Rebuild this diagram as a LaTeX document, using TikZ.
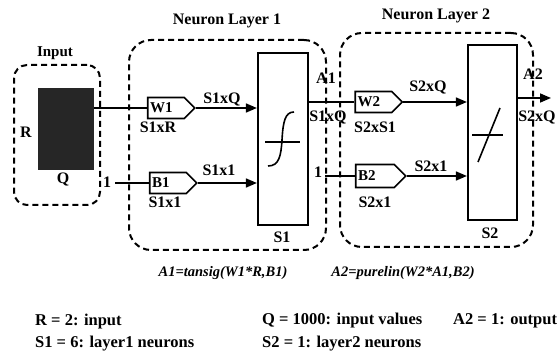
\documentclass[tikz,border=0pt]{standalone}
\usepackage{fontspec}
\setmainfont{Liberation Serif}
\usetikzlibrary{positioning,shapes.symbols,arrows.meta}

\begin{document}
\begin{tikzpicture}[x=1pt,y=-1pt,
    lbl/.style={inner sep=0pt,font=\bfseries\fontsize{16}{18}\selectfont},
    grp/.style={draw,dash pattern=on 6pt off 4pt,line width=2pt,rounded corners=22pt},
    blk/.style={draw,line width=2.2pt,minimum width=50pt},
    wbox/.style={draw,signal,signal to=east,line width=1.6pt,minimum width=47pt,minimum height=21pt,inner sep=0pt},
    conn/.style={line width=1.6pt},
    arr/.style={conn,-{Triangle[length=11pt,width=9pt]}},
    eqn/.style={inner sep=0pt,font=\bfseries\itshape\fontsize{14.5}{17}\selectfont},
    legend/.style={anchor=west,inner sep=0pt,font=\bfseries\fontsize{16.5}{19}\selectfont}]
  \fill[white] (0,0) rectangle (557,358);
  \useasboundingbox (0,0) rectangle (557,358);

  % dashed groups
  \node[grp,rounded corners=13pt,minimum width=86pt,minimum height=140pt] (ingrp) at (57,135) {};
  \node[grp,minimum width=197pt,minimum height=210pt] (l1grp) at (227.5,145) {};
  \node[grp,minimum width=193pt,minimum height=214pt] (l2grp) at (436.5,140) {};
  \node[lbl,font=\bfseries\fontsize{15}{17}\selectfont] (intitle) at (55,53) {Input};
  \node[lbl] (l1title) at (227,21) {Neuron Layer 1};
  \node[lbl] (l2title) at (436,16) {Neuron Layer 2};

  % input
  \node[fill=black!85,minimum width=56pt,minimum height=82pt] (inp) at (66,129) {};
  \node[lbl] (rlbl) at (26,132) {R};
  \node[lbl] (qlbl) at (63,180) {Q};

  % layer 1
  \node[wbox] (w1) at (166,108) {};
  \node[lbl,font=\bfseries\fontsize{15}{17}\selectfont,right=3pt of w1.west] (w1t) {W1};
  \node[wbox] (b1) at (168,183) {};
  \node[lbl,font=\bfseries\fontsize{15}{17}\selectfont,right=3pt of b1.west] (b1t) {B1};
  \node[blk,minimum height=172pt] (s1) at (283,139) {};
  \node[lbl] (one1) at (107,182) {1};
  \draw[conn] (inp.east |- w1.west) -- (w1.west);
  \draw[conn] (one1.east |- b1.west) ++(4,0) -- (b1.west);
  \draw[arr] (w1.east) -- (s1.west |- w1.east);
  \draw[arr] (b1.east) -- (s1.west |- b1.east);
  \node[lbl] (s1xr) at (158,127) {S1xR};
  \node[lbl] (s1xq) at (222,100) {S1xQ};
  \node[lbl] (s1x1b) at (165,202) {S1x1};
  \node[lbl] (s1x1a) at (219,170) {S1x1};
  \node[lbl] (s1lbl) at (282,237) {S1};
  % tansig
  \draw[conn] (265,142) -- (300,142);
  \draw[conn] (268,166) .. controls (279,166) and (281,156) .. (282,140)
    .. controls (283,122) and (285,112) .. (294,112);

  % layer 2
  \node[wbox] (w2) at (373.5,102) {};
  \node[lbl,font=\bfseries\fontsize{15}{17}\selectfont,right=3pt of w2.west] (w2t) {W2};
  \node[wbox,minimum width=50pt,minimum height=23pt] (b2) at (375,176) {};
  \node[lbl,font=\bfseries\fontsize{15}{17}\selectfont,right=3pt of b2.west] (b2t) {B2};
  \node[blk,minimum width=49pt,minimum height=175pt] (s2) at (492.5,132.5) {};
  \node[lbl] (one2) at (318,172) {1};
  \coordinate (a2out) at (551,98);
  \draw[conn] (s1.east |- w2.west) -- (w2.west);
  \draw[conn] (one2.east |- b2.west) ++(3,0) -- (b2.west);
  \draw[arr] (w2.east) -- (s2.west |- w2.east);
  \draw[arr] (b2.east) -- (s2.west |- b2.east);
  \draw[arr] (s2.east |- a2out) -- (a2out);
  \node[lbl] (a1lbl) at (326,78) {A1};
  \node[lbl] (s1xq2) at (328,118) {S1xQ};
  \node[lbl] (s2xq) at (428,88) {S2xQ};
  \node[lbl] (s2xs1) at (375,127) {S2xS1};
  \node[lbl] (s2x1a) at (431,166) {S2x1};
  \node[lbl] (s2x1b) at (375,202) {S2x1};
  \node[lbl] (s2lbl) at (490,233) {S2};
  \node[lbl] (a2lbl) at (533,74) {A2};
  \node[lbl] (s2xq2) at (537,118) {S2xQ};
  % purelin
  \draw[conn] (472,135) -- (503,135);
  \draw[conn] (478,162) -- (500,108);

  % equations and legend
  \node[eqn] (eq1) at (223,273) {A1=tansig(W1*R,B1)};
  \node[eqn] (eq2) at (403,273) {A2=purelin(W2*A1,B2)};
  \node[legend] (leg1) at (35,322) {R = 2: input};
  \node[legend] (leg2) at (35,344) {S1 = 6: layer1 neurons};
  \node[legend] (leg3) at (262,321) {Q = 1000: input values};
  \node[legend] (leg4) at (262,344) {S2 = 1: layer2 neurons};
  \node[legend] (leg5) at (453,321) {A2 = 1: output};
\end{tikzpicture}
\end{document}
